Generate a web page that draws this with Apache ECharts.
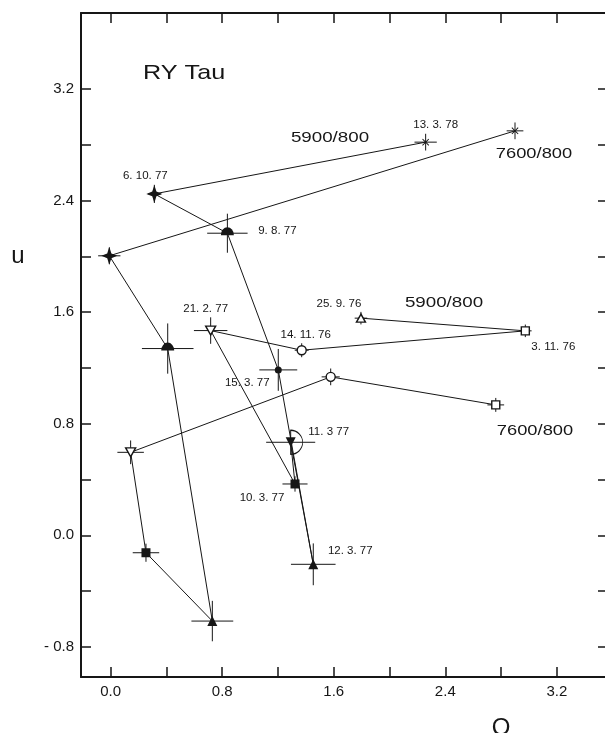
<!DOCTYPE html>
<html>
<head>
<meta charset="utf-8">
<script src="https://cdn.jsdelivr.net/npm/echarts@6/dist/echarts.min.js"></script>
<style>html,body{margin:0;padding:0;background:#fff}#c{width:605px;height:733px}</style>
</head>
<body>
<div id="c"></div>
<script>
// ---- data ----
const dates5900 = ['25.9.76','3.11.76','14.11.76','21.2.77','10.3.77','11.3.77','12.3.77','15.3.77','9.8.77','6.10.77','13.3.78'];
const q5900  = [1.795, 2.974, 1.370, 0.717, 1.322, 1.291, 1.453, 1.202, 0.837, 0.313, 2.259];
const u5900  = [1.557, 1.466, 1.327, 1.468, 0.368, 0.667, -0.208, 1.186, 2.166, 2.448, 2.819];
const dq5900 = [0.045, 0.045, 0.05, 0.12, 0.09, 0.176, 0.16, 0.136, 0.145, 0.045, 0.08];
const du5900 = [0.045, 0.045, 0.05, 0.095, 0.055, 0.09, 0.15, 0.15, 0.14, 0.065, 0.06];

const dates7600 = ['3.11.76','14.11.76','21.2.77','10.3.77','12.3.77','9.8.77','6.10.77','13.3.78'];
const q7600  = [2.762, 1.578, 0.143, 0.253, 0.729, 0.409, -0.01, 2.90];
const u7600  = [0.935, 1.136, 0.595, -0.125, -0.615, 1.339, 2.004, 2.90];
const dq7600 = [0.06, 0.065, 0.095, 0.095, 0.15, 0.185, 0.08, 0.06];
const du7600 = [0.05, 0.06, 0.085, 0.065, 0.145, 0.18, 0.06, 0.06];

const dateTexts = {'25.9.76':'25. 9. 76','3.11.76':'3. 11. 76','14.11.76':'14. 11. 76','21.2.77':'21. 2. 77',
  '10.3.77':'10. 3. 77','11.3.77':'11. 3 77','12.3.77':'12. 3. 77','15.3.77':'15. 3. 77','9.8.77':'9. 8. 77',
  '6.10.77':'6. 10. 77','13.3.78':'13. 3. 78'};

const qTicks = [0, 0.4, 0.8, 1.2, 1.6, 2.0, 2.4, 2.8, 3.2];
const qLabelValues = [0, 0.8, 1.6, 2.4, 3.2];
const qLabelTexts = ['0.0', '0.8', '1.6', '2.4', '3.2'];
const uTicks = [-0.8, -0.4, 0, 0.4, 0.8, 1.2, 1.6, 2.0, 2.4, 2.8, 3.2];
const uLabelValues = [-0.8, 0, 0.8, 1.6, 2.4, 3.2];
const uLabelTexts = ['- 0.8', '0.0', '0.8', '1.6', '2.4', '3.2'];

const title = 'RY Tau';
const filterNames = ['5900/800', '7600/800'];
const axisNames = ['Q', 'u'];

// ---- styles (not data) ----
const FONT = '"Liberation Sans", Arial, sans-serif';
const INK = '#161616';
const open = {color: '#fff', borderColor: INK, borderWidth: 1.4};
const filled = {color: INK, borderColor: INK, borderWidth: 0};
const markerStyle = {
  '25.9.76': {symbol: 'triangle', size: [9, 8], rot: 0, it: open},
  '3.11.76': {symbol: 'rect', size: 8, rot: 0, it: open},
  '14.11.76': {symbol: 'circle', size: 9, rot: 0, it: open},
  '21.2.77': {symbol: 'triangle', size: [10, 9], rot: 180, it: open},
  '10.3.77': {symbol: 'rect', size: 9, rot: 0, it: filled},
  '11.3.77': {symbol: 'triangle', size: [10, 10], rot: 180, it: filled},
  '12.3.77': {symbol: 'triangle', size: [10, 10], rot: 0, it: filled},
  '15.3.77': {symbol: 'circle', size: 7, rot: 0, it: filled},
  '9.8.77': {symbol: 'path://M-6,0 A6,6 0 0 1 6,0 Z', size: [13, 8], rot: 0, it: filled, off: [0, -2]},
  '6.10.77': {symbol: 'path://M0,-10 L2.6,-2.6 L10,0 L2.6,2.6 L0,10 L-2.6,2.6 L-10,0 L-2.6,-2.6 Z', size: [16, 18], rot: 0, it: filled},
  '13.3.78': {symbol: 'path://M-5,-4 L-4,-5 L0,-1 L4,-5 L5,-4 L1,0 L5,4 L4,5 L0,1 L-4,5 L-5,4 L-1,0 Z', size: [7, 7], rot: 0, it: filled}
};
const labelOffset = {
  '6.10.77': [-9, -18], '9.8.77': [50, 0], '21.2.77': [-5, -22], '14.11.76': [4, -15],
  '25.9.76': [-22, -14], '3.11.76': [28, 16], '15.3.77': [-31, 13], '11.3.77': [38, -10],
  '10.3.77': [-33, 14], '12.3.77': [37, -13], '13.3.78': [10, -17]
};

function pointItems(dates, qs, us, withLabels) {
  return dates.map((d, i) => {
    const m = markerStyle[d];
    const item = {
      value: [qs[i], us[i]],
      symbol: m.symbol, symbolSize: m.size, symbolRotate: m.rot,
      symbolOffset: m.off || [0, 0],
      itemStyle: m.it
    };
    if (withLabels) {
      item.label = {show: true, position: 'inside', offset: labelOffset[d], formatter: dateTexts[d],
        fontFamily: FONT, fontSize: 11.5, color: INK};
    }
    return item;
  });
}
function errItems(qs, us, dqs, dus) {
  return qs.map((q, i) => [q, us[i], dqs[i], dus[i]]);
}

const xMin = -0.213, xMax = 3.567, yMin = -1.016, yMax = 3.745;

function lookup(vals, texts) {
  return function (v) {
    for (let i = 0; i < vals.length; i++) if (Math.abs(vals[i] - v) < 1e-6) return texts[i];
    return '';
  };
}

const axisLineStyle = {onZero: false, lineStyle: {color: INK, width: 2}};
const tickStyle = {inside: true, length: 10, lineStyle: {color: INK, width: 1.5}};

const chart = echarts.init(document.getElementById('c'), null, {renderer: 'canvas'});
chart.setOption({
  animation: false,
  backgroundColor: '#fff',
  grid: {left: 81, top: 13, width: 527, height: 664, outerBoundsMode: 'none', containLabel: false},
  xAxis: [
    {type: 'value', position: 'bottom', min: xMin, max: xMax, splitLine: {show: false},
     axisLine: axisLineStyle,
     axisTick: Object.assign({customValues: qTicks}, tickStyle),
     axisLabel: {customValues: qLabelValues, formatter: lookup(qLabelValues, qLabelTexts), margin: 7,
       fontFamily: FONT, fontSize: 15, color: INK}},
    {type: 'value', position: 'top', min: xMin, max: xMax, splitLine: {show: false},
     axisLine: axisLineStyle,
     axisTick: Object.assign({customValues: qTicks}, tickStyle),
     axisLabel: {show: false}}
  ],
  yAxis: [
    {type: 'value', position: 'left', min: yMin, max: yMax, splitLine: {show: false},
     axisLine: axisLineStyle,
     axisTick: Object.assign({customValues: uTicks}, tickStyle),
     axisLabel: {customValues: uLabelValues, formatter: lookup(uLabelValues, uLabelTexts), margin: 7,
       fontFamily: FONT, fontSize: 15, color: INK}},
    {type: 'value', position: 'right', min: yMin, max: yMax, splitLine: {show: false},
     axisLine: axisLineStyle,
     axisTick: Object.assign({customValues: uTicks}, tickStyle),
     axisLabel: {show: false}}
  ],
  graphic: [
    {type: 'text', x: 143, y: 73, scaleX: 1.2, style: {text: title, font: '21px ' + FONT, fill: INK, align: 'left', verticalAlign: 'middle'}},
    {type: 'text', x: 330, y: 138, scaleX: 1.25, style: {text: filterNames[0], font: '15px ' + FONT, fill: INK, align: 'center', verticalAlign: 'middle'}},
    {type: 'text', x: 444, y: 303, scaleX: 1.25, style: {text: filterNames[0], font: '15px ' + FONT, fill: INK, align: 'center', verticalAlign: 'middle'}},
    {type: 'text', x: 534, y: 154, scaleX: 1.22, style: {text: filterNames[1], font: '15px ' + FONT, fill: INK, align: 'center', verticalAlign: 'middle'}},
    {type: 'text', x: 535, y: 431, scaleX: 1.22, style: {text: filterNames[1], font: '15px ' + FONT, fill: INK, align: 'center', verticalAlign: 'middle'}},
    {type: 'text', x: 18, y: 256, style: {text: axisNames[1], font: '24px ' + FONT, fill: INK, align: 'center', verticalAlign: 'middle'}},
    {type: 'text', x: 501, y: 728, style: {text: axisNames[0], font: '24px ' + FONT, fill: INK, align: 'center', verticalAlign: 'middle'}}
  ],
  series: [
    {type: 'custom', name: 'err5900', xAxisIndex: 0, yAxisIndex: 0, z: 2, silent: true,
     data: errItems(q5900, u5900, dq5900, du5900), encode: {x: 0, y: 1}, renderItem: renderErr},
    {type: 'custom', name: 'err7600', xAxisIndex: 0, yAxisIndex: 0, z: 2, silent: true,
     data: errItems(q7600, u7600, dq7600, du7600), encode: {x: 0, y: 1}, renderItem: renderErr},
    {type: 'line', name: filterNames[0], xAxisIndex: 0, yAxisIndex: 0, z: 3, showAllSymbol: true,
     lineStyle: {color: INK, width: 1}, data: pointItems(dates5900, q5900, u5900, true),
     markPoint: {silent: true, label: {show: false},
       data: [{coord: [q5900[5], u5900[5]], symbol: 'path://M0,0 A10,10 0 0 1 0,20', symbolSize: [12, 24],
               symbolOffset: [6, 0], itemStyle: {color: 'transparent', borderColor: INK, borderWidth: 1}}]}},
    {type: 'line', name: filterNames[1], xAxisIndex: 0, yAxisIndex: 0, z: 3, showAllSymbol: true,
     lineStyle: {color: INK, width: 1}, data: pointItems(dates7600, q7600, u7600, false)}
  ]
});

function renderErr(params, api) {
  const q = api.value(0), u = api.value(1), dq = api.value(2), du = api.value(3);
  const a = api.coord([q - dq, u]), b = api.coord([q + dq, u]);
  const c = api.coord([q, u - du]), d = api.coord([q, u + du]);
  const st = {stroke: INK, lineWidth: 1};
  return {type: 'group', children: [
    {type: 'line', shape: {x1: a[0], y1: a[1], x2: b[0], y2: b[1]}, style: st},
    {type: 'line', shape: {x1: c[0], y1: c[1], x2: d[0], y2: d[1]}, style: st}
  ]};
}
</script>
</body>
</html>
